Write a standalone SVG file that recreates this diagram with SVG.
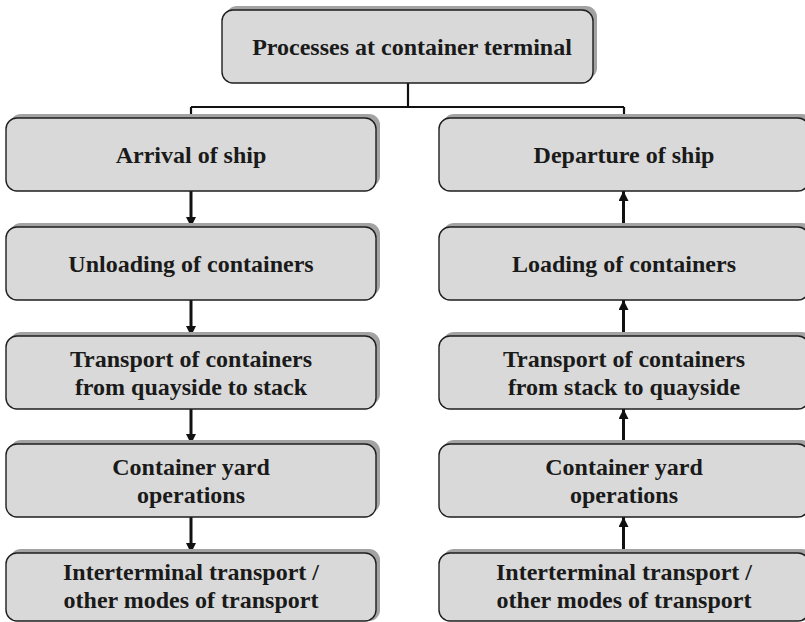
<svg xmlns="http://www.w3.org/2000/svg" width="805" height="622" viewBox="0 0 805 622">
  <style>
    .shadow { fill: #a3a3a3; }
    .box { fill: #d9d9d9; stroke: #1e1e1e; stroke-width: 1.4; }
    .label { font-family: "Liberation Serif", "Times New Roman", serif; font-weight: bold; font-size: 24px; fill: #1a1a1a; text-anchor: middle; }
    .tree { fill: none; stroke: #111; stroke-width: 2.2; }
    .flow { fill: none; stroke: #111; stroke-width: 3; }
  </style>
  <defs>
    <marker id="head" markerUnits="userSpaceOnUse" viewBox="0 0 10 10" refX="10" refY="5" markerWidth="10" markerHeight="10" orient="auto">
      <path d="M0,0 L10,5 L0,10 z" fill="#111"/>
    </marker>
  </defs>

  <rect width="805" height="622" fill="#ffffff"/>

  <!-- connectors -->
  <g id="connectors">
    <path class="tree" d="M408,83 V107 M191,107 H624 M191,107 V118 M624,107 V118"/>
    <!-- inbound chain: downward -->
    <line class="flow" x1="191" y1="191" x2="191" y2="227" marker-end="url(#head)"/>
    <line class="flow" x1="191" y1="300" x2="191" y2="336" marker-end="url(#head)"/>
    <line class="flow" x1="191" y1="409" x2="191" y2="444" marker-end="url(#head)"/>
    <line class="flow" x1="191" y1="517" x2="191" y2="553" marker-end="url(#head)"/>
    <!-- outbound chain: upward -->
    <line class="flow" x1="623.5" y1="227" x2="623.5" y2="191" marker-end="url(#head)"/>
    <line class="flow" x1="623.5" y1="336" x2="623.5" y2="300" marker-end="url(#head)"/>
    <line class="flow" x1="623.5" y1="444" x2="623.5" y2="409" marker-end="url(#head)"/>
    <line class="flow" x1="623.5" y1="553" x2="623.5" y2="517" marker-end="url(#head)"/>
  </g>

  <g id="root">
    <rect class="shadow" x="226" y="6" width="371" height="73" rx="11"/>
    <rect class="box" x="222" y="10" width="371" height="73" rx="11"/>
    <text class="label" x="412" y="55">Processes at container terminal</text>
  </g>

  <!-- left column -->
  <g id="arrival">
    <rect class="shadow" x="10" y="114" width="370" height="73" rx="11"/>
    <rect class="box" x="6" y="118" width="370" height="73" rx="11"/>
    <text class="label" x="191" y="163">Arrival of ship</text>
  </g>
  <g id="unloading">
    <rect class="shadow" x="10" y="223" width="370" height="73" rx="11"/>
    <rect class="box" x="6" y="227" width="370" height="73" rx="11"/>
    <text class="label" x="191" y="272">Unloading of containers</text>
  </g>
  <g id="transport-in">
    <rect class="shadow" x="10" y="332" width="370" height="73" rx="11"/>
    <rect class="box" x="6" y="336" width="370" height="73" rx="11"/>
    <text class="label" x="191" y="366.5">Transport of containers</text>
    <text class="label" x="191" y="394.5">from quayside to stack</text>
  </g>
  <g id="yard-in">
    <rect class="shadow" x="10" y="440" width="370" height="73" rx="11"/>
    <rect class="box" x="6" y="444" width="370" height="73" rx="11"/>
    <text class="label" x="191" y="474.5">Container yard</text>
    <text class="label" x="191" y="502.5">operations</text>
  </g>
  <g id="interterminal-in">
    <rect class="shadow" x="10" y="549" width="370" height="72" rx="11"/>
    <rect class="box" x="6" y="553" width="370" height="68" rx="11"/>
    <text class="label" x="191" y="580">Interterminal transport /</text>
    <text class="label" x="191" y="608">other modes of transport</text>
  </g>

  <!-- right column -->
  <g id="departure">
    <rect class="shadow" x="443" y="114" width="370" height="73" rx="11"/>
    <rect class="box" x="439" y="118" width="370" height="73" rx="11"/>
    <text class="label" x="624" y="163">Departure of ship</text>
  </g>
  <g id="loading">
    <rect class="shadow" x="443" y="223" width="370" height="73" rx="11"/>
    <rect class="box" x="439" y="227" width="370" height="73" rx="11"/>
    <text class="label" x="624" y="272">Loading of containers</text>
  </g>
  <g id="transport-out">
    <rect class="shadow" x="443" y="332" width="370" height="73" rx="11"/>
    <rect class="box" x="439" y="336" width="370" height="73" rx="11"/>
    <text class="label" x="624" y="366.5">Transport of containers</text>
    <text class="label" x="624" y="394.5">from stack to quayside</text>
  </g>
  <g id="yard-out">
    <rect class="shadow" x="443" y="440" width="370" height="73" rx="11"/>
    <rect class="box" x="439" y="444" width="370" height="73" rx="11"/>
    <text class="label" x="624" y="474.5">Container yard</text>
    <text class="label" x="624" y="502.5">operations</text>
  </g>
  <g id="interterminal-out">
    <rect class="shadow" x="443" y="549" width="370" height="72" rx="11"/>
    <rect class="box" x="439" y="553" width="370" height="68" rx="11"/>
    <text class="label" x="624" y="580">Interterminal transport /</text>
    <text class="label" x="624" y="608">other modes of transport</text>
  </g>
</svg>
